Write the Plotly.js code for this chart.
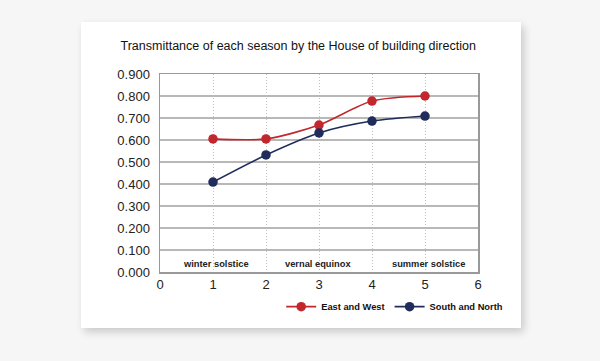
<!DOCTYPE html>
<html><head><meta charset="utf-8">
<script src="https://cdn.plot.ly/plotly-3.0.1.min.js"></script>
<style>
html,body{margin:0;padding:0;background:#f6f6f6;width:600px;height:361px;overflow:hidden;}
#card{position:absolute;left:81px;top:22px;width:440px;height:306px;background:#fff;box-shadow:3px 4px 8px rgba(0,0,0,0.18);}
#chart{position:absolute;left:0;top:0;width:600px;height:361px;}
</style></head>
<body>
<div id="card"></div>
<div id="chart"></div>
<script>
const seasonsX = [1, 2, 3, 4, 5];
const eastWest = [0.605, 0.605, 0.668, 0.777, 0.800];
const southNorth = [0.409, 0.532, 0.632, 0.686, 0.709];
const seasonLabels = ["winter solstice", "vernal equinox", "summer solstice"];
const seasonLabelX = [1.05, 2.99, 5.06];
const seriesNames = ["East and West", "South and North"];
const chartTitle = "Transmittance of each season by the House of building direction";

const font = "Liberation Sans, Arial, Helvetica, sans-serif";
const traces = [
  {x: seasonsX, y: eastWest, name: seriesNames[0], type: "scatter", mode: "lines+markers",
   line: {color: "#c1272d", width: 1.6, shape: "spline", smoothing: 0.8},
   marker: {color: "#c1272d", size: 9.5}},
  {x: seasonsX, y: southNorth, name: seriesNames[1], type: "scatter", mode: "lines+markers",
   line: {color: "#1f2c5c", width: 1.6, shape: "spline", smoothing: 0.8},
   marker: {color: "#1f2c5c", size: 9.5}}
];
const annotations = seasonLabels.map((t, i) => ({
  x: seasonLabelX[i], y: 0.0, xref: "x", yref: "y", yanchor: "bottom", yshift: 1,
  text: t, showarrow: false, font: {family: font, size: 9.3, color: "#222", weight: 700}
}));
const layout = {
  width: 600, height: 361,
  margin: {l: 160, r: 122, t: 74, b: 89},
  paper_bgcolor: "rgba(0,0,0,0)", plot_bgcolor: "#fff",
  title: {text: chartTitle, x: 0.497, xanchor: "center", y: 0.873, yanchor: "middle",
          font: {family: font, size: 12.5, color: "#111"}},
  xaxis: {range: [0, 6], dtick: 1, tick0: 0, showgrid: true, gridcolor: "#c0c0c0", griddash: "1px,2px", gridwidth: 1,
          showline: true, linecolor: "#999", linewidth: 1.5, mirror: true, zeroline: false,
          ticks: "", tickfont: {family: font, size: 13, color: "#222"}, fixedrange: true},
  yaxis: {range: [0, 0.9], dtick: 0.1, tick0: 0, tickformat: ".3f", showgrid: true, gridcolor: "#b8b8b8", gridwidth: 1.5,
          showline: true, linecolor: "#999", linewidth: 1.5, mirror: true, zeroline: false,
          ticks: "", ticklabelstandoff: 6, tickfont: {family: font, size: 13, color: "#222"}, fixedrange: true},
  showlegend: true,
  legend: {orientation: "h", x: 1.095, xanchor: "right", y: -0.175, yanchor: "middle",
           font: {family: font, size: 9.3, color: "#111", weight: 700}, bgcolor: "rgba(0,0,0,0)",
           itemwidth: 30, tracegroupgap: 0},
  annotations: annotations
};
Plotly.newPlot("chart", traces, layout, {displayModeBar: false, staticPlot: true});
</script>
</body></html>
